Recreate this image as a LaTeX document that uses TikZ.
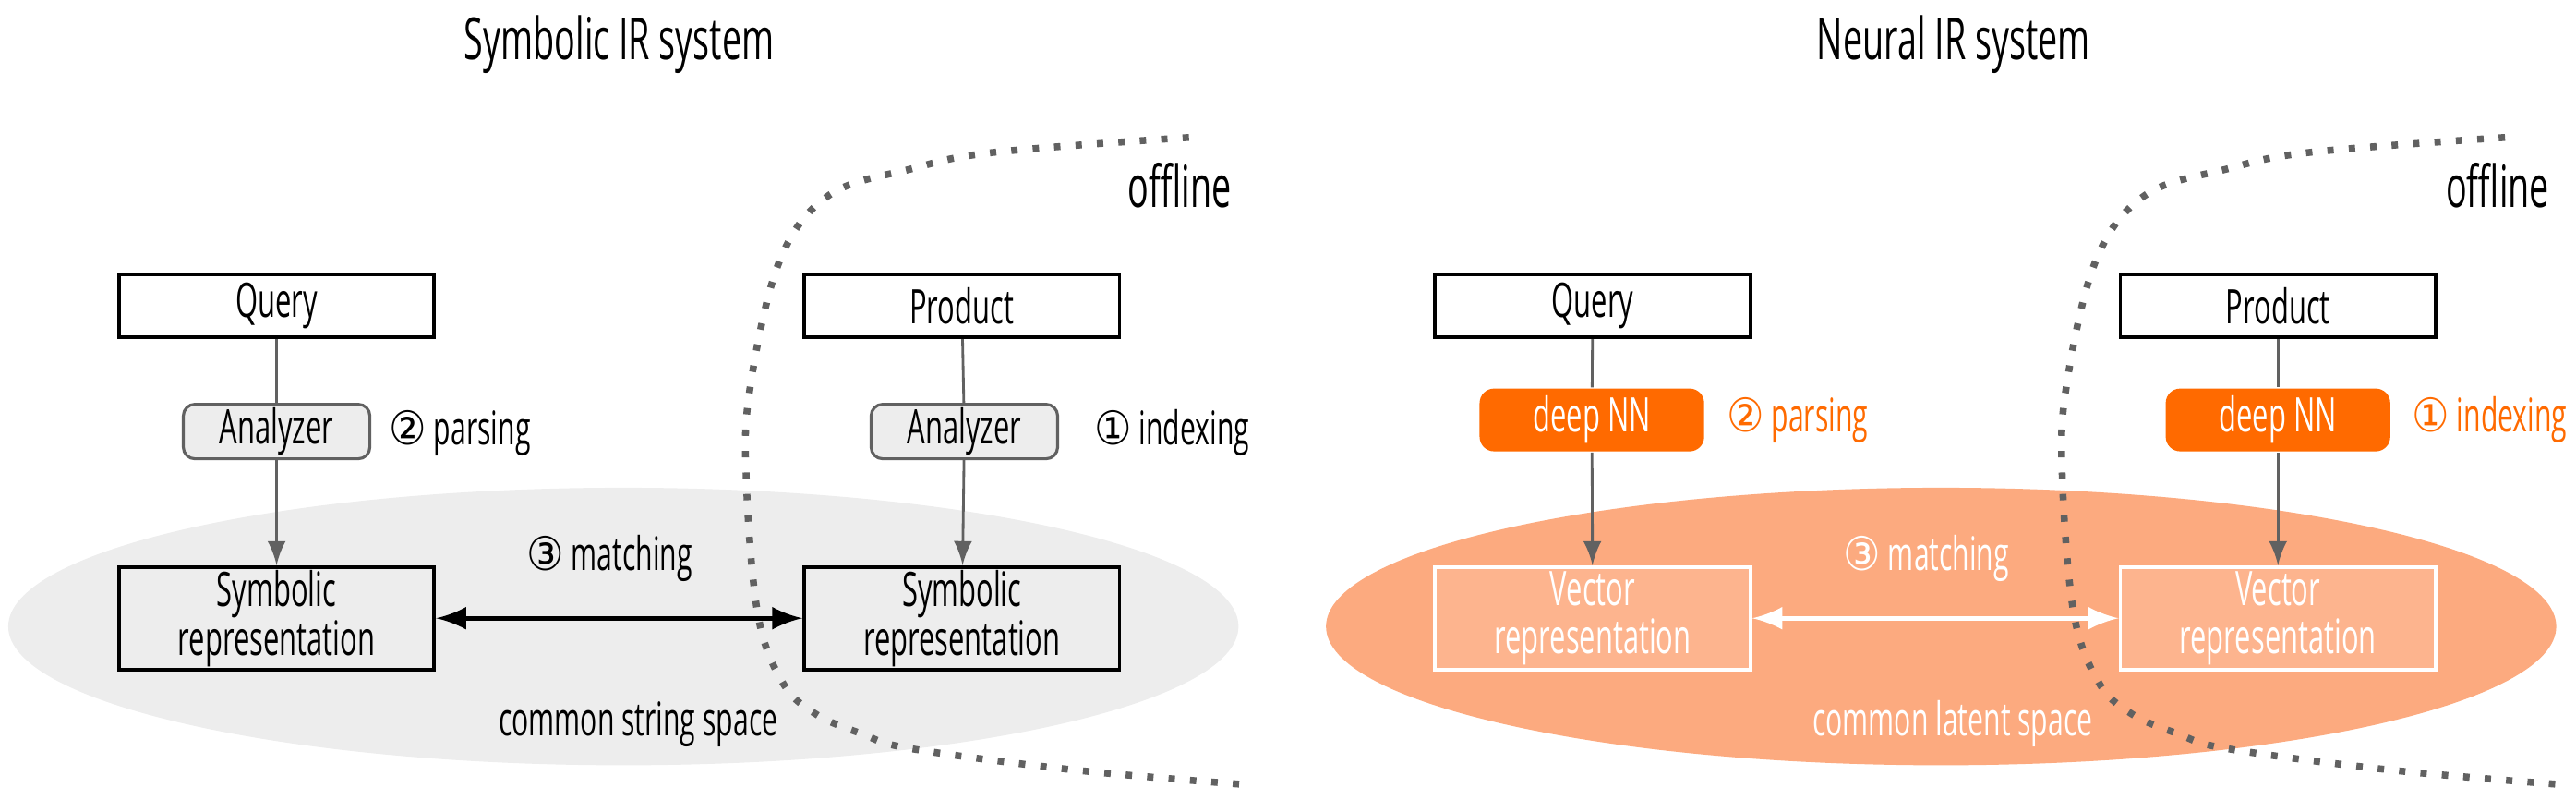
\documentclass[tikz,border=0pt]{standalone}
\usepackage{fontspec}
\setmainfont{Open Sans}[FakeStretch=0.6]
\newfontfamily\circfont{DejaVu Sans}[FakeStretch=0.9]
\usepackage{tikz}
\tikzset{>=latex}
\definecolor{gr1}{gray}{.93}
\definecolor{gr2}{gray}{.38}
\definecolor{or1}{RGB}{255,106,0}
\definecolor{or2}{RGB}{252,170,127}
\definecolor{or3}{RGB}{253,180,142}
\newcommand{\circnum}[1]{{\circfont#1}}
\tikzset{
  lbl/.style={font=\fontsize{8}{9.5}\selectfont, inner sep=0pt},
  ttl/.style={font=\fontsize{10}{11}\selectfont, inner sep=0pt},
  box/.style={draw, line width=.6pt, minimum width=1.91cm, minimum height=.38cm, inner sep=0pt, align=center, font=\fontsize{8.2}{8.4}\selectfont},
  repbox/.style={box, minimum height=.62cm},
  vecbox/.style={repbox, draw=white, fill=or3, text=white},
  anabox/.style={draw=gr2, fill=gr1, line width=.5pt, rounded corners=2pt, minimum width=1.13cm, minimum height=.33cm, inner sep=0pt, font=\fontsize{8.2}{8.4}\selectfont},
  nnbox/.style={fill=or1, text=white, rounded corners=2.5pt, minimum width=1.36cm, minimum height=.38cm, inner sep=0pt, font=\fontsize{8.2}{8.4}\selectfont},
  flow/.style={draw=gr2, line width=.45pt},
  offl/.style={draw=gr2, line width=1.2pt, dash pattern=on 1.1pt off 2.6pt},
}

\begin{document}
\begin{tikzpicture}
    \useasboundingbox(0, 0)rectangle(15.6, 4.842);
    % symbolic side
    \fill[gr1](3.775, 1.05)ellipse(3.725 and .84);
    \node[ttl](tS)at(3.75, 4.57){Symbolic IR system};
    \node[box](qS)at(1.675, 2.99){Query};
    \node[box](pS)at(5.825, 2.99){Product};
    \node[anabox](aS1)at(1.675, 2.23){Analyzer};
    \node[anabox](aS2)at(5.84, 2.23){Analyzer};
    \node[repbox](rS1)at(1.675, 1.10){Symbolic\\representation};
    \node[repbox](rS2)at(5.825, 1.10){Symbolic\\representation};
    \node[lbl, anchor=west](parS)at(2.35, 2.22){\circnum{②} parsing};
    \node[lbl, anchor=west](idxS)at(6.62, 2.22){\circnum{①} indexing};
    \node[lbl](matS)at(3.69, 1.46){\circnum{③} matching};
    \node[lbl](spS)at(3.865, .46){common string space};
    \node[ttl](offS)at(7.145, 3.72){offline};
    \draw[flow](qS)--(aS1);
    \draw[flow, ->](aS1)--(rS1);
    \draw[flow](pS)--(aS2);
    \draw[flow, ->](aS2)--(rS2);
    \draw[<->, line width=.8pt](rS1)--(rS2);
    \draw[offl]plot[smooth, tension=.6]coordinates{(7.20, 4.01)(6.02, 3.92)(5.52, 3.82)(5.02, 3.66)(4.72, 3.26)(4.54, 2.48)(4.52, 1.92)(4.59, 1.12)(4.74, .71)(4.94, .52)(5.22, .40)(5.52, .31)(6.52, .18)(7.58, .09)};
    % neural side
    \fill[or2](11.755, 1.05)ellipse(3.725 and .84);
    \node[ttl](tN)at(11.83, 4.57){Neural IR system};
    \node[box](qN)at(9.645, 2.99){Query};
    \node[box](pN)at(13.795, 2.99){Product};
    \node[nnbox](nN1)at(9.64, 2.30){deep NN};
    \node[nnbox](nN2)at(13.795, 2.30){deep NN};
    \node[vecbox](rN1)at(9.645, 1.10){Vector\\representation};
    \node[vecbox](rN2)at(13.795, 1.10){Vector\\representation};
    \node[lbl, anchor=west, text=or1](parN)at(10.45, 2.30){\circnum{②} parsing};
    \node[lbl, anchor=west, text=or1](idxN)at(14.6, 2.30){\circnum{①} indexing};
    \node[lbl, text=white](matN)at(11.665, 1.46){\circnum{③} matching};
    \node[lbl, text=white](spN)at(11.825, .46){common latent space};
    \node[ttl](offN)at(15.125, 3.72){offline};
    \draw[flow](qN)--(nN1);
    \draw[flow, ->](nN1)--(rN1);
    \draw[flow](pN)--(nN2);
    \draw[flow, ->](nN2)--(rN2);
    \draw[<->, white, line width=.8pt](rN1)--(rN2);
    \draw[offl]plot[smooth, tension=.6]coordinates{(15.17, 4.01)(13.99, 3.92)(13.49, 3.82)(12.99, 3.66)(12.69, 3.26)(12.51, 2.48)(12.49, 1.92)(12.56, 1.12)(12.71, .71)(12.91, .52)(13.19, .40)(13.49, .31)(14.49, .18)(15.55, .09)};
\end{tikzpicture}
\end{document}
